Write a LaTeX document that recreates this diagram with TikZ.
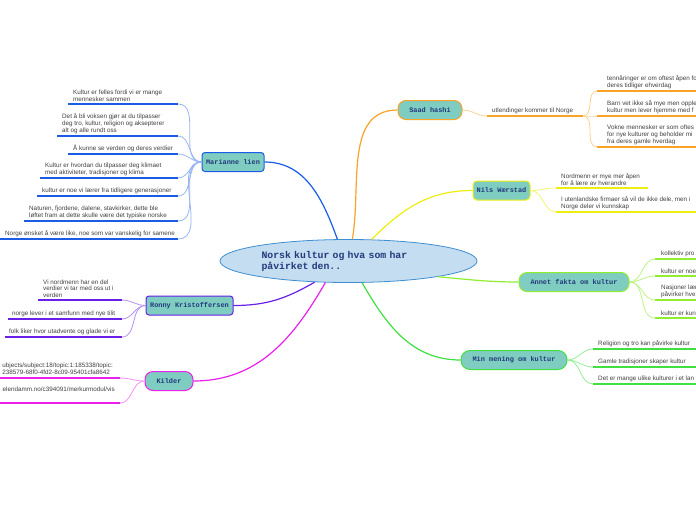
\documentclass[tikz,border=0pt]{standalone}
\usepackage{fontspec}
\setmainfont{Liberation Sans}
\newfontfamily\mapmono{Liberation Mono}
\usepackage{xcolor}
\usetikzlibrary{shapes.geometric}

\definecolor{rootfill}{HTML}{C4DDF0}
\definecolor{rootline}{HTML}{3D8FD1}
\definecolor{topicfill}{HTML}{7ECDC0}
\definecolor{titleblue}{HTML}{233A7C}
\definecolor{leaftext}{HTML}{404040}
\definecolor{cMar}{HTML}{1A5CE6}
\definecolor{cSaad}{HTML}{F7A428}
\definecolor{cNils}{HTML}{EEEE10}
\definecolor{cAnnet}{HTML}{90EE30}
\definecolor{cMin}{HTML}{40E040}
\definecolor{cRonny}{HTML}{6A20E8}
\definecolor{cKilder}{HTML}{EC20EC}

\begin{document}
\begin{tikzpicture}[
    x=1pt, y=1pt,
    root/.style={ellipse, draw=rootline, fill=rootfill, line width=0.8pt,
      minimum width=257pt, minimum height=43pt, inner sep=0pt,
      text width=174pt, align=left, text=titleblue,
      font=\mapmono\bfseries\fontsize{9.8}{11}\selectfont},
    topic/.style={draw, line width=1pt, fill=topicfill, minimum height=19pt,
      inner sep=0pt, text=titleblue, font=\mapmono\bfseries\fontsize{6.9}{8}\selectfont},
    leaf/.style={anchor=south west, inner sep=0pt, align=left, text=leaftext,
      font=\fontsize{6.3}{6.8}\selectfont},
    branch/.style={line width=1.2pt},
    uline/.style={line width=1.6pt},
    twig/.style={line width=0.8pt}
]
  \useasboundingbox (0,0) rectangle (696,-520);
  \fill[white] (0,0) rectangle (696,-520);

  % Centre and main topics
  \node[root] (root) at (348.5,-261) {Norsk kultur og hva som har\\påvirket den..};
  \node[topic, draw=cMar, rounded corners=3pt, minimum width=62pt] (mar) at (233,-162) {Marianne lien};
  \node[topic, draw=cSaad, rounded corners=8pt, minimum width=64pt] (saad) at (430,-110) {Saad hashi};
  \node[topic, draw=cNils, rounded corners=4pt, minimum width=57pt] (nils) at (501.5,-190.5) {Nils Wærstad};
  \node[topic, draw=cAnnet, rounded corners=8pt, minimum width=110pt] (annet) at (574,-282) {Annet fakta om kultur};
  \node[topic, draw=cMin, rounded corners=9pt, minimum width=106pt] (min) at (514,-360) {Min mening om kultur};
  \node[topic, draw=cRonny, rounded corners=3pt, minimum width=87pt] (ronny) at (189.5,-305.5) {Ronny Kristoffersen};
  \node[topic, draw=cKilder, rounded corners=8pt, minimum width=48pt] (kilder) at (169,-381) {Kilder};

  % Centre to topics
  \draw[branch, cMar] (root.117) to[out=110, in=0] (mar.east);
  \draw[branch, cSaad] (root.80) to[out=80, in=180] (saad.west);
  \draw[branch, cNils] (root.43) to[out=45, in=180] (nils.west);
  \draw[branch, cAnnet] (root.-10) to[out=-5, in=180] (annet.west);
  \draw[branch, cMin] (root.-58) to[out=-60, in=180] (min.west);
  \draw[branch, cRonny] (root.-148) to[out=-150, in=0] (ronny.east);
  \draw[branch, cKilder] (root.-137) to[out=-120, in=0] (kilder.east);

  % Marianne lien
  \coordinate (m1) at (178,-104);
  \coordinate (m2) at (178,-136);
  \coordinate (m3) at (178,-154);
  \coordinate (m4) at (178,-178);
  \coordinate (m5) at (178,-196);
  \coordinate (m6) at (178,-221);
  \coordinate (m7) at (178,-239);
  \node[leaf] (mt1) at (73,-102) {Kultur er felles fordi vi er mange\\mennesker sammen};
  \node[leaf] (mt2) at (62,-134) {Det å bli voksen gjør at du tilpasser\\deg tro, kultur, religion og aksepterer\\alt og alle rundt oss};
  \node[leaf] (mt3) at (73,-152) {Å kunne se verden og deres verdier};
  \node[leaf] (mt4) at (45,-176) {Kultur er hvordan du tilpasser deg klimaet\\med aktiviteter, tradisjoner og klima};
  \node[leaf] (mt5) at (42,-194) {kultur er noe vi lærer fra tidligere generasjoner};
  \node[leaf] (mt6) at (29,-219) {Naturen, fjordene, dalene, stavkirker, dette ble\\løftet fram at dette skulle være det typiske norske};
  \node[leaf] (mt7) at (5,-237) {Norge ønsket å være like, noe som var vanskelig for samene};
  \draw[uline, cMar] (m1) -- ++(-110,0);
  \draw[uline, cMar] (m2) -- ++(-121,0);
  \draw[uline, cMar] (m3) -- ++(-110,0);
  \draw[uline, cMar] (m4) -- ++(-138,0);
  \draw[uline, cMar] (m5) -- ++(-141,0);
  \draw[uline, cMar] (m6) -- ++(-154,0);
  \draw[uline, cMar] (m7) -- ++(-178,0);
  \draw[twig, cMar!45] (mar.west) to[out=180, in=0] (m1);
  \draw[twig, cMar!45] (mar.west) to[out=180, in=0] (m2);
  \draw[twig, cMar!45] (mar.west) to[out=180, in=0] (m3);
  \draw[twig, cMar!45] (mar.west) to[out=180, in=0] (m4);
  \draw[twig, cMar!45] (mar.west) to[out=180, in=0] (m5);
  \draw[twig, cMar!45] (mar.west) to[out=180, in=0] (m6);
  \draw[twig, cMar!45] (mar.west) to[out=180, in=0] (m7);

  % Saad hashi
  \coordinate (s0) at (487,-116);
  \coordinate (s1) at (583,-116);
  \coordinate (sa) at (597,-91);
  \coordinate (sb) at (597,-116);
  \coordinate (sc) at (597,-147);
  \node[leaf] (st0) at (492,-114) {utlendinger kommer til Norge};
  \node[leaf] (sta) at (607,-89) {tennåringer er om oftest åpen fo\\deres tidliger ehverdag};
  \node[leaf] (stb) at (607,-114) {Barn vet ikke så mye men opple\\kultur men lever hjemme med f};
  \node[leaf] (stc) at (607,-145) {Vokne mennesker er som oftes\\for nye kulturer og beholder mi\\fra deres gamle hverdag};
  \draw[twig, cSaad!50] (saad.east) to[out=0, in=180] (s0);
  \draw[uline, cSaad] (s0) -- (s1);
  \draw[twig, cSaad!50] (s1) to[out=0, in=180] (sa);
  \draw[twig, cSaad!50] (s1) to[out=0, in=180] (sb);
  \draw[twig, cSaad!50] (s1) to[out=0, in=180] (sc);
  \draw[uline, cSaad] (sa) -- ++(100,0);
  \draw[uline, cSaad] (sb) -- ++(100,0);
  \draw[uline, cSaad] (sc) -- ++(100,0);

  % Nils Wærstad
  \coordinate (n1) at (556,-188);
  \coordinate (n2) at (556,-212);
  \node[leaf] (nt1) at (561,-186) {Nordmenn er mye mer åpen\\for å lære av hverandre};
  \node[leaf] (nt2) at (561,-210) {I utenlandske firmaer så vil de ikke dele, men i\\Norge deler vi kunnskap};
  \draw[twig, cNils!60] (nils.east) to[out=0, in=180] (n1);
  \draw[twig, cNils!60] (nils.east) to[out=0, in=180] (n2);
  \draw[uline, cNils] (n1) -- ++(92,0);
  \draw[uline, cNils] (n2) -- ++(141,0);

  % Annet fakta om kultur
  \coordinate (a1) at (655,-259);
  \coordinate (a2) at (655,-276);
  \coordinate (a3) at (655,-300);
  \coordinate (a4) at (655,-318);
  \node[leaf] (at1) at (661,-257) {kollektiv pro};
  \node[leaf] (at2) at (661,-274) {kultur er noe};
  \node[leaf] (at3) at (661,-298) {Nasjoner lær\\påvirker hve};
  \node[leaf] (at4) at (661,-316) {kultur er kun};
  \draw[twig, cAnnet!60] (annet.east) to[out=0, in=180] (a1);
  \draw[twig, cAnnet!60] (annet.east) to[out=0, in=180] (a2);
  \draw[twig, cAnnet!60] (annet.east) to[out=0, in=180] (a3);
  \draw[twig, cAnnet!60] (annet.east) to[out=0, in=180] (a4);
  \draw[uline, cAnnet] (a1) -- ++(42,0);
  \draw[uline, cAnnet] (a2) -- ++(42,0);
  \draw[uline, cAnnet] (a3) -- ++(42,0);
  \draw[uline, cAnnet] (a4) -- ++(42,0);

  % Min mening om kultur
  \coordinate (p1) at (593,-349);
  \coordinate (p2) at (593,-367);
  \coordinate (p3) at (593,-384);
  \node[leaf] (pt1) at (598,-347) {Religion og tro kan påvirke kultur};
  \node[leaf] (pt2) at (598,-365) {Gamle tradisjoner skaper kultur};
  \node[leaf] (pt3) at (598,-382) {Det er mange ulike kulturer i et lan};
  \draw[twig, cMin!55] (min.east) to[out=0, in=180] (p1);
  \draw[twig, cMin!55] (min.east) to[out=0, in=180] (p2);
  \draw[twig, cMin!55] (min.east) to[out=0, in=180] (p3);
  \draw[uline, cMin] (p1) -- ++(104,0);
  \draw[uline, cMin] (p2) -- ++(104,0);
  \draw[uline, cMin] (p3) -- ++(104,0);

  % Ronny Kristoffersen
  \coordinate (r1) at (122,-300);
  \coordinate (r2) at (122,-319);
  \coordinate (r3) at (122,-337);
  \node[leaf] (rt1) at (43,-298) {Vi nordmenn har en del\\verdier vi tar med oss ut i\\verden};
  \node[leaf] (rt2) at (12,-317) {norge lever i et samfunn med nye tilit};
  \node[leaf] (rt3) at (9,-335) {folk liker hvor utadvente og glade vi er};
  \draw[twig, cRonny!50] (ronny.west) to[out=180, in=0] (r1);
  \draw[twig, cRonny!50] (ronny.west) to[out=180, in=0] (r2);
  \draw[twig, cRonny!50] (ronny.west) to[out=180, in=0] (r3);
  \draw[uline, cRonny] (r1) -- ++(-84,0);
  \draw[uline, cRonny] (r2) -- ++(-114,0);
  \draw[uline, cRonny] (r3) -- ++(-117,0);

  % Kilder
  \coordinate (k1) at (120,-378);
  \coordinate (k2) at (120,-403);
  \node[leaf, anchor=south east] (kt1) at (113,-375) {ubjects/subject:18/topic:1:185338/topic:\\238579-68f0-4fd2-8c09-95401cfa8642};
  \node[leaf, anchor=base east] (kt2) at (115,-391) {elendamm.no/c394091/merkurmodul/vis};
  \draw[twig, cKilder!50] (kilder.west) to[out=180, in=0] (k1);
  \draw[twig, cKilder!50] (kilder.west) to[out=180, in=0] (k2);
  \draw[uline, cKilder] (k1) -- ++(-125,0);
  \draw[uline, cKilder] (k2) -- ++(-125,0);
\end{tikzpicture}
\end{document}
